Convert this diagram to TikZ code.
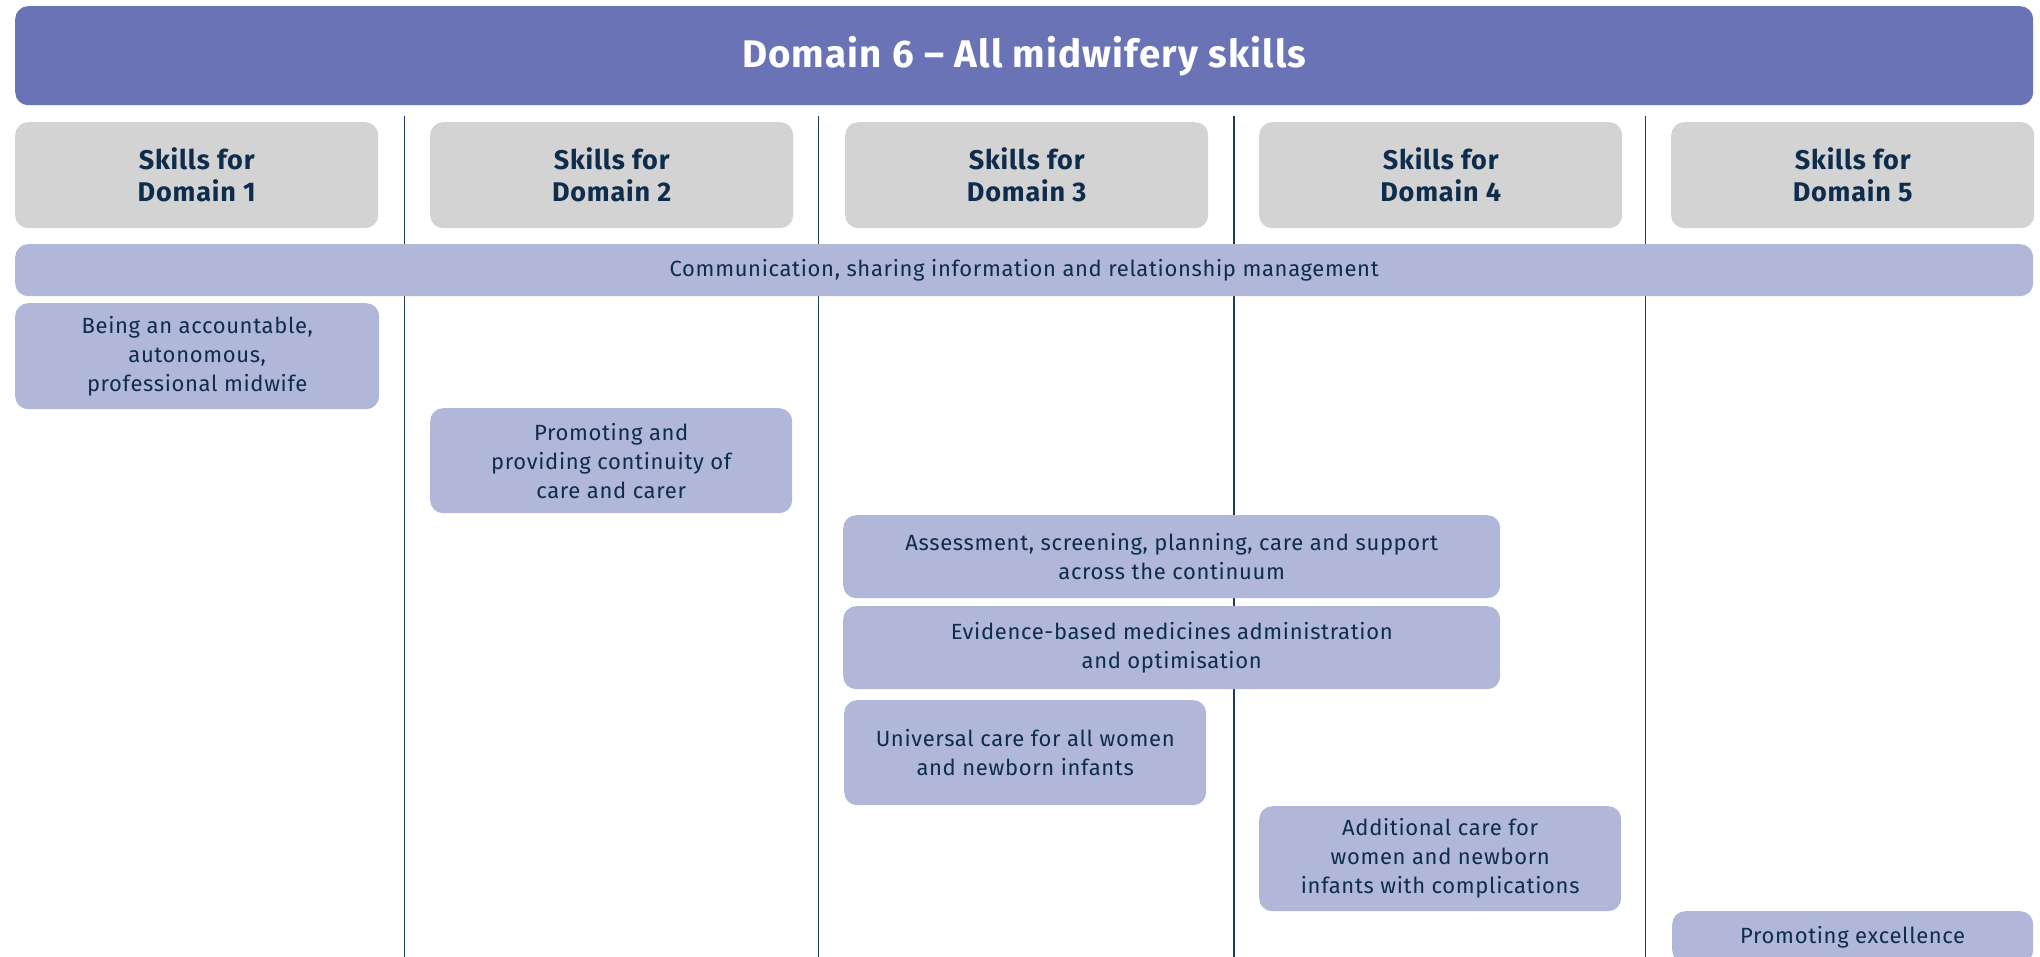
\documentclass[tikz,border=0pt]{standalone}
\usepackage{fontspec}
\setmainfont{Fira Sans}[LetterSpace=3]
\definecolor{titlebg}{HTML}{6973B6}
\definecolor{headbg}{HTML}{D3D3D3}
\definecolor{skillbg}{HTML}{B1B7D9}
\definecolor{navy}{HTML}{0E2C4C}
\definecolor{divider}{HTML}{1B3A5C}
\tikzset{
  box/.style={rectangle, rounded corners=13pt, inner sep=0pt, anchor=north west, align=center},
  titlebox/.style={box, fill=titlebg, text=white, font=\fontsize{38.5}{46}\selectfont\bfseries},
  headbox/.style={box, fill=headbg, text=navy, font=\fontsize{27}{32}\selectfont\bfseries, minimum width=363pt, minimum height=106pt},
  skillbox/.style={box, fill=skillbg, text=navy, font=\fontsize{22}{29}\selectfont},
  divline/.style={draw=divider, line width=1.4pt}
}
\begin{document}
\begin{tikzpicture}[x=1pt,y=-1pt]
\useasboundingbox (0,0) rectangle (2040,957);
% dividers
\foreach \x [count=\i] in {404.5,818.5,1234,1645.5}{
  \coordinate (t\i) at (\x,116);
  \coordinate (b\i) at (\x,957);
  \draw[divline] (t\i) -- (b\i);
}
\node[titlebox, minimum width=2018pt, minimum height=99pt] (title) at (15,6) {Domain 6 – All midwifery skills};
\node[headbox] (h1) at (15,122) {Skills for\\Domain 1};
\node[headbox] (h2) at (430,122) {Skills for\\Domain 2};
\node[headbox] (h3) at (845,122) {Skills for\\Domain 3};
\node[headbox] (h4) at (1259,122) {Skills for\\Domain 4};
\node[headbox] (h5) at (1671,122) {Skills for\\Domain 5};
\node[skillbox, minimum width=2018pt, minimum height=52pt] (comm) at (15,244) {Communication, sharing information and relationship management};
\node[skillbox, minimum width=364pt, minimum height=106pt] (s1) at (15,303) {Being an accountable,\\autonomous,\\professional midwife};
\node[skillbox, minimum width=362pt, minimum height=105pt] (s2) at (430,408) {Promoting and\\providing continuity of\\care and carer};
\node[skillbox, minimum width=657pt, minimum height=83pt] (s3) at (843,515) {Assessment, screening, planning, care and support\\across the continuum};
\node[skillbox, minimum width=657pt, minimum height=83pt] (s4) at (843,606) {Evidence-based medicines administration\\and optimisation};
\node[skillbox, minimum width=362pt, minimum height=105pt] (s5) at (844,700) {Universal care for all women\\and newborn infants};
\node[skillbox, minimum width=362pt, minimum height=105pt] (s6) at (1259,806) {Additional care for\\women and newborn\\infants with complications};
\node[skillbox, minimum width=361pt, minimum height=52pt] (s7) at (1672,911) {Promoting excellence};
\end{tikzpicture}
\end{document}
